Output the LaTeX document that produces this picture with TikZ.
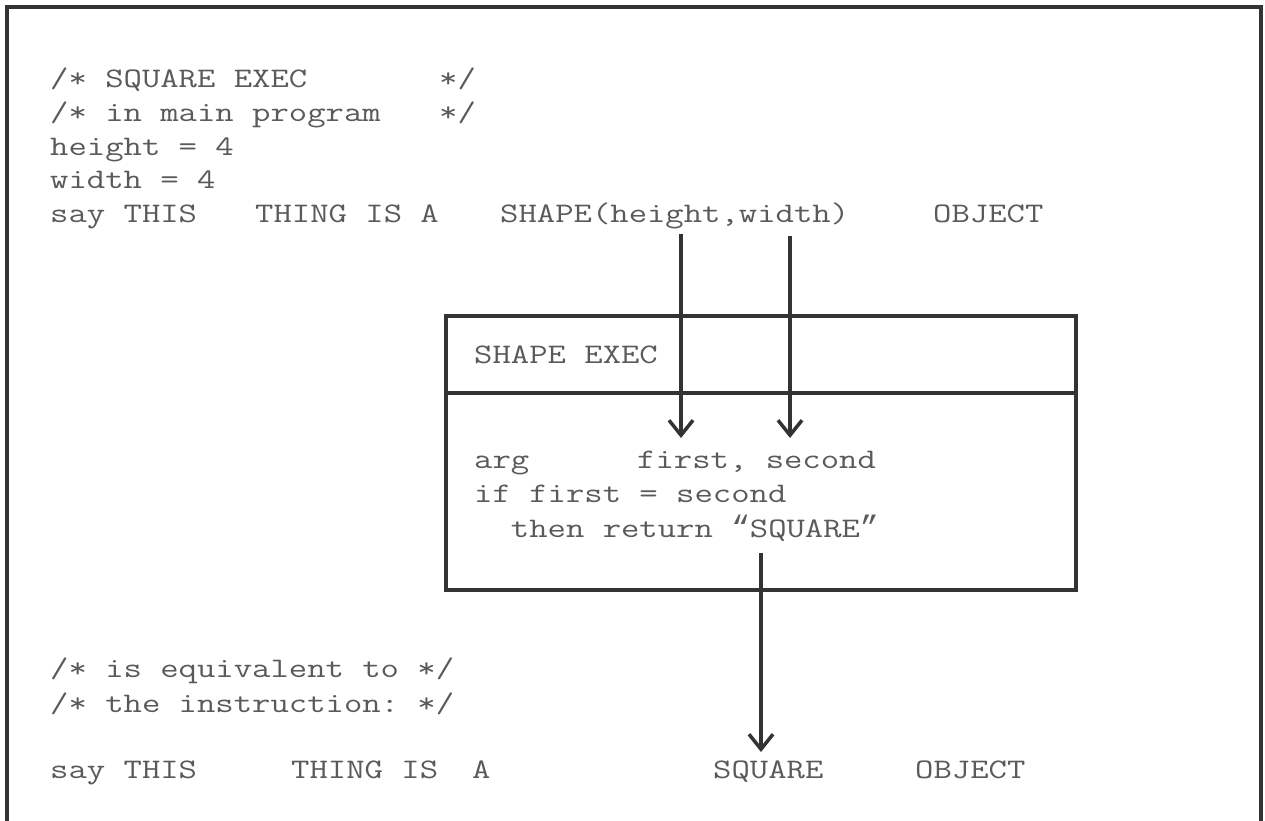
\documentclass[tikz,border=0pt]{standalone}
\usepackage{fontspec}
\setmonofont[FakeStretch=1.26]{Latin Modern Mono}
\newfontfamily\quotefont{Liberation Mono}
\usetikzlibrary{arrows.meta}
\definecolor{textgray}{HTML}{5a5a5a}
\definecolor{linegray}{HTML}{333333}
\newcommand\myopenq{{\quotefont\fontsize{31}{31}\selectfont “}}
\newcommand\myclosq{{\quotefont\fontsize{31}{31}\selectfont ”}}
\begin{document}
\begin{tikzpicture}[x=1pt,y=-1pt,
  txt/.style={anchor=base west, inner sep=0pt, font=\ttfamily\fontsize{28.3}{28.3}\selectfont, text=textgray},
  ln/.style={line width=4pt, draw=linegray},
  arr/.style={line width=3.5pt, draw=linegray, -{Straight Barb[length=15pt,width=24pt,line width=3.5pt]}}]
\fill[white] (0,0) rectangle (1265,820);
\useasboundingbox (0,0) rectangle (1265,820);
% frame
\coordinate (f1) at (7,822);
\coordinate (f2) at (7,7);
\coordinate (f3) at (1261,7);
\coordinate (f4) at (1261,822);
\draw[ln, line join=miter] (f1) -- (f2) -- (f3) -- (f4);
% top program
\node[txt] (l1a) at (50,87) {/*~SQUARE~EXEC};
\node[txt] (l1b) at (439,87) {*/};
\node[txt] (l2a) at (50,121) {/*~in~main~program};
\node[txt] (l2b) at (439,121) {*/};
\node[txt] (l3) at (50,155) {height~=~4};
\node[txt] (l4) at (50,188) {width~=~4};
\node[txt] (l5a) at (50,222) {say~THIS};
\node[txt] (l5b) at (255,222) {THING~IS~A};
\node[txt] (l5c) at (500,222) {SHAPE(height,width)};
\node[txt] (l5d) at (933,222) {OBJECT};
% box
\node[ln, draw, minimum width=630pt, minimum height=274pt, inner sep=0pt] (box) at (761,453) {};
\coordinate (d1) at (446,393);
\coordinate (d2) at (1076,393);
\draw[ln] (d1) -- (d2);
\node[txt] (b0) at (474,363) {SHAPE~EXEC};
\node[txt] (b1a) at (474,468) {arg};
\node[txt] (b1b) at (637,468) {first,~second};
\node[txt] (b2) at (474,502) {if~first~=~second};
\node[txt] (b3) at (474,537) {~~then~return~\myopenq SQUARE\myclosq};
% bottom
\node[txt] (c1) at (50,677) {/*~is~equivalent~to~*/};
\node[txt] (c2) at (50,712) {/*~the~instruction:~*/};
\node[txt] (e1) at (50,778) {say~THIS};
\node[txt] (e2) at (291,778) {THING~IS};
\node[txt] (e3) at (472,778) {A};
\node[txt] (e4) at (713,778) {SQUARE};
\node[txt] (e5) at (915,778) {OBJECT};
% arrows
\coordinate (s1) at (681,234);
\coordinate (t1) at (681,438);
\coordinate (s2) at (790,236);
\coordinate (t2) at (790,438);
\coordinate (s3) at (761,553);
\coordinate (t3) at (761,752);
\draw[arr] (s1) -- (t1);
\draw[arr] (s2) -- (t2);
\draw[arr] (s3) -- (t3);
\end{tikzpicture}
\end{document}
